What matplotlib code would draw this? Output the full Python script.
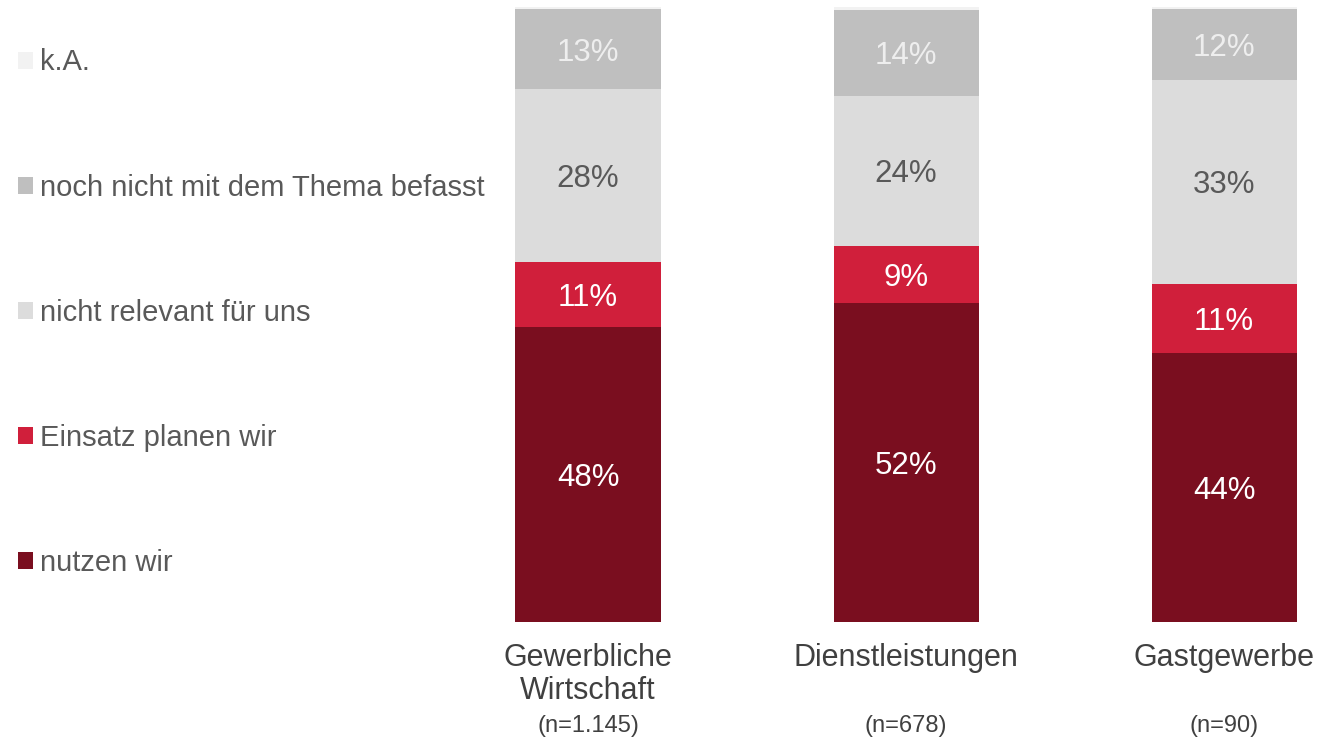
import matplotlib.pyplot as plt
from matplotlib.patches import Patch
from matplotlib.transforms import blended_transform_factory
import numpy as np

plt.rcParams['font.family'] = ['Liberation Sans', 'DejaVu Sans']

categories = ['Gewerbliche\nWirtschaft', 'Dienstleistungen', 'Gastgewerbe']
sample_sizes = ['(n=1.145)', '(n=678)', '(n=90)']
series = ['nutzen wir', 'Einsatz planen wir', 'nicht relevant für uns',
          'noch nicht mit dem Thema befasst', 'k.A.']

# printed labels
nutzen = [48, 52, 44]
planen = [11, 9, 11]
nicht_relevant = [28, 24, 33]
noch_nicht = [13, 14, 12]
keine_angabe = [0.4, 0.5, 0.3]

# segment heights
nutzen_h = [48.0, 51.9, 43.7]
planen_h = [10.6, 9.3, 11.2]
nicht_relevant_h = [28.0, 24.4, 33.3]
noch_nicht_h = [13.0, 13.9, 11.5]

colors = ['#7A0E1F', '#D01F3B', '#DCDCDC', '#BFBFBF', '#F2F2F2']
label_colors = ['white', 'white', '#595959', '#EEEEEE', '#595959']
text_gray = '#595959'

fig = plt.figure(figsize=(13.21, 7.4), dpi=100)
ax = fig.add_axes([0.3729, 0.1595, 0.6259, 0.8311])

x = np.arange(len(categories))
heights = [nutzen_h, planen_h, nicht_relevant_h, noch_nicht_h, keine_angabe]
shown = [nutzen, planen, nicht_relevant, noch_nicht, keine_angabe]
bottom = np.zeros(len(categories))
handles = []
for i, name in enumerate(series):
    h = np.array(heights[i])
    ax.bar(x, h, 0.456, bottom=bottom, color=colors[i], edgecolor='none')
    handles.append(Patch(facecolor=colors[i], label=name))
    if i < 4:
        for j in range(len(categories)):
            ax.text(x[j], bottom[j] + h[j] / 2, f'{shown[i][j]}%',
                    ha='center', va='center_baseline', fontsize=22.5,
                    color=label_colors[i])
    bottom += h

ax.set_xlim(-0.3, 2.3)
ax.set_ylim(0, 100)
ax.set_xticks(x)
ax.set_xticklabels(categories, fontsize=22, color='#404040', linespacing=1.15)
ax.tick_params(axis='x', length=0, pad=15)
ax.set_yticks([])
for s in ax.spines.values():
    s.set_visible(False)

trans = blended_transform_factory(ax.transData, fig.transFigure)
for j, n in enumerate(sample_sizes):
    ax.text(x[j], 1 - 726 / 740, n, ha='center', va='center', fontsize=17,
            color='#404040', transform=trans)

fig.legend(handles=handles[::-1], loc='upper left', bbox_to_anchor=(0.0136, 0.9346),
           frameon=False, fontsize=21, labelcolor=text_gray, handlelength=0.52,
           handleheight=0.52, handletextpad=0.25, labelspacing=3.33,
           borderpad=0, borderaxespad=0)

fig.savefig('out.png', dpi=100)
